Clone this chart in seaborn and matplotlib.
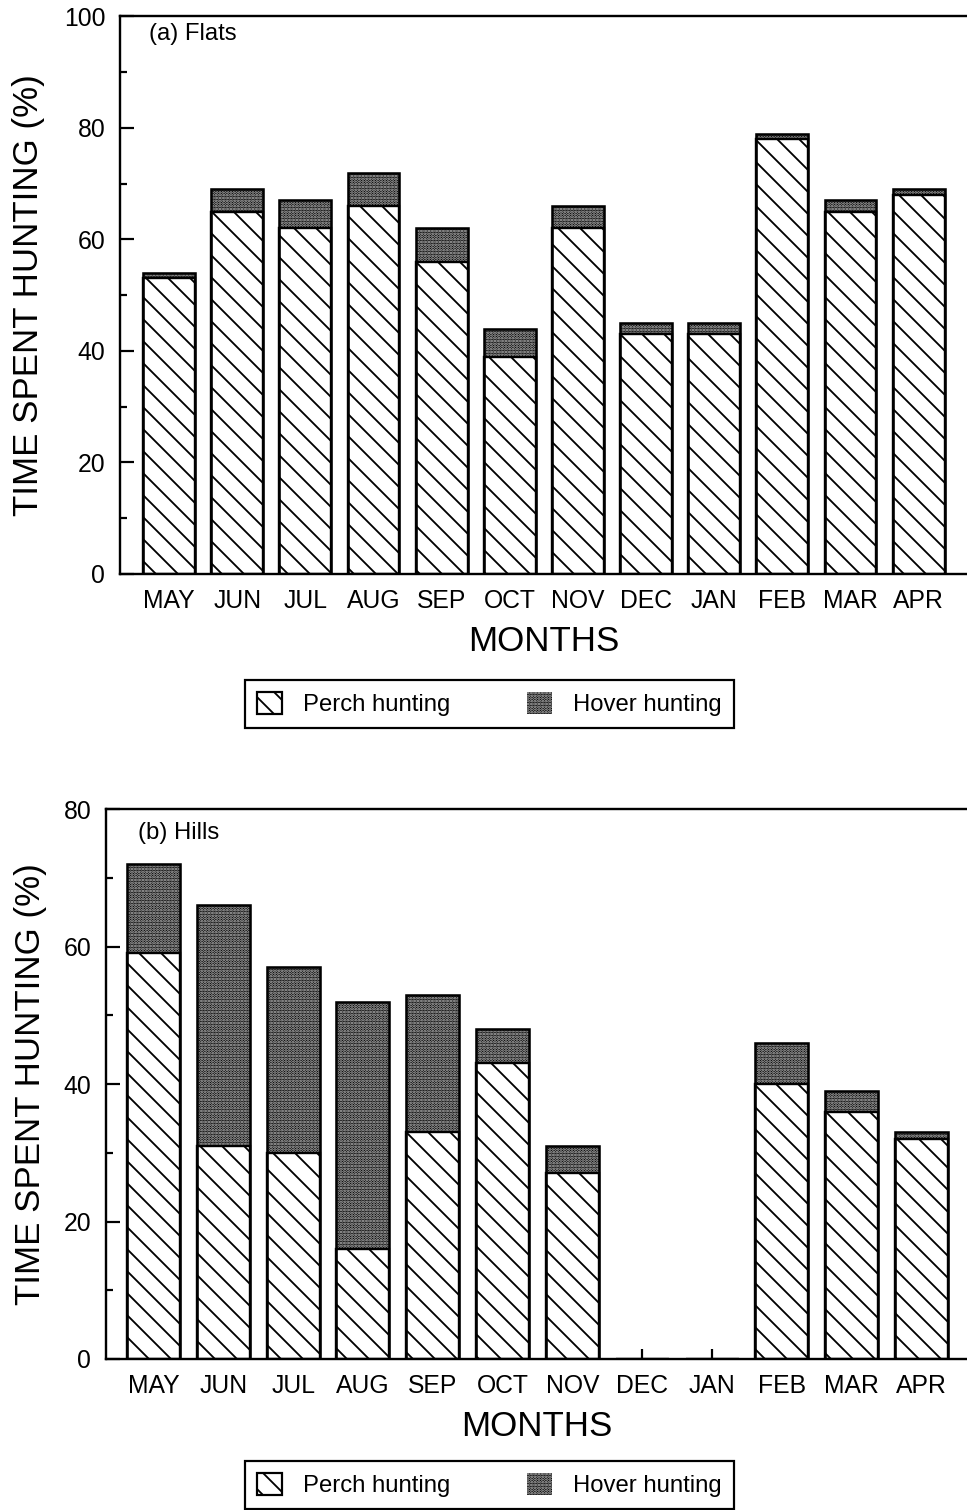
import matplotlib
matplotlib.use("Agg")
import matplotlib.pyplot as plt
from matplotlib.patches import Patch
from matplotlib.ticker import MultipleLocator
import pandas as pd
import seaborn as sns

months = ["MAY", "JUN", "JUL", "AUG", "SEP", "OCT", "NOV", "DEC", "JAN", "FEB", "MAR", "APR"]

# (a) Flats, % of time
flats_perch = [53, 65, 62, 66, 56, 39, 62, 43, 43, 78, 65, 68]
flats_hover = [1, 4, 5, 6, 6, 5, 4, 2, 2, 1, 2, 1]

# (b) Hills, % of time (no data Dec/Jan)
hills_perch = [59, 31, 30, 16, 33, 43, 27, 0, 0, 40, 36, 32]
hills_hover = [13, 35, 27, 36, 20, 5, 4, 0, 0, 6, 3, 1]

legend_labels = ["Perch hunting", "Hover hunting"]

HOVER = "#000000"
DOTS = "#c8c8c8"
STIPPLE = "........"
PERCH_HATCH = "\\\\"

sns.set_style("white", rc={"axes.edgecolor": "black", "text.color": "black",
                           "xtick.color": "black", "ytick.color": "black",
                           "axes.labelcolor": "black"})
plt.rcParams["font.family"] = ["Liberation Sans", "DejaVu Sans"]
plt.rcParams["hatch.linewidth"] = 1.0


def draw_panel(ax, perch, hover, ymax, title, xlim, title_pos, ylab_x):
    df = pd.DataFrame({"month": months, "perch": perch, "hover": hover})
    df["total"] = df["perch"] + df["hover"]
    common = dict(data=df, x="month", order=months, width=0.76,
                  errorbar=None, saturation=1, ax=ax)
    # hover part = full stacked bar, perch drawn over it
    sns.barplot(y="total", color=HOVER, edgecolor=DOTS, hatch=STIPPLE,
                linewidth=0, **common)
    sns.barplot(y="perch", color="white", edgecolor="black", hatch=PERCH_HATCH,
                linewidth=1.3, **common)
    sns.barplot(y="total", color="black", fill=False, linewidth=1.4, **common)

    ax.set_xlim(*xlim)
    ax.set_ylim(0, ymax)
    ax.yaxis.set_major_locator(MultipleLocator(20))
    ax.yaxis.set_minor_locator(MultipleLocator(10))
    ax.tick_params(axis="y", which="major", direction="in", length=7.5,
                   width=1.2, pad=8, labelsize=13.5, left=True)
    ax.tick_params(axis="y", which="minor", direction="in", length=3.8,
                   width=1.2, left=True)
    ax.tick_params(axis="x", direction="in", length=5.5, width=1.2,
                   pad=8, labelsize=13.5, bottom=True)
    ax.spines["right"].set_visible(False)
    for s in ["left", "top", "bottom"]:
        ax.spines[s].set_linewidth(1.3)
        ax.spines[s].set_color("black")

    ax.set_xlabel("MONTHS", fontsize=19, labelpad=7)
    ax.set_ylabel("TIME SPENT HUNTING (%)", fontsize=19)
    ax.yaxis.set_label_coords(ylab_x, 0.5)
    ax.text(title_pos[0], title_pos[1], title, transform=ax.transAxes,
            fontsize=13, va="center", ha="left")


def add_legend(fig, y):
    handles = [Patch(facecolor="white", edgecolor="black", hatch=PERCH_HATCH, linewidth=1.2),
               Patch(facecolor=HOVER, edgecolor=DOTS, hatch=STIPPLE, linewidth=0)]
    leg = fig.legend(handles, legend_labels, loc="center", bbox_to_anchor=(0.506, y),
                     ncol=2, frameon=True, fancybox=False, framealpha=1,
                     edgecolor="black", fontsize=13, handlelength=1.05,
                     handleheight=1.05, handletextpad=0.9, columnspacing=3.2,
                     borderpad=0.5)
    leg.get_frame().set_linewidth(1.2)


fig = plt.figure(figsize=(967 / 132, 1510 / 132))

ax1 = fig.add_axes([0.1241, 0.6199, 0.8759, 0.3692])
draw_panel(ax1, flats_perch, flats_hover, 100, "(a) Flats",
           (-0.72, 11.71), (0.034, 0.969), -0.088)
add_legend(fig, 0.5338)

ax2 = fig.add_axes([0.1096, 0.1, 0.8904, 0.3642])
draw_panel(ax2, hills_perch, hills_hover, 80, "(b) Hills",
           (-0.68, 11.65), (0.037, 0.956), -0.068)
add_legend(fig, 0.0166)

fig.savefig("out.png", dpi=132)
